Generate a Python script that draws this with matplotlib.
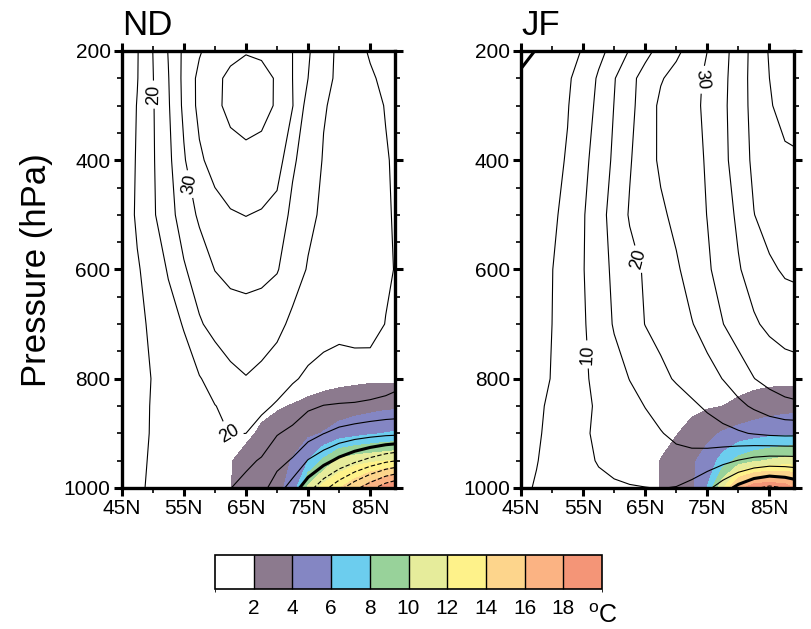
import numpy as np
import matplotlib
matplotlib.use('Agg')
import matplotlib as mpl
import matplotlib.pyplot as plt
from matplotlib.colors import ListedColormap, BoundaryNorm

plt.rcParams['font.family'] = ['Liberation Sans', 'DejaVu Sans']
plt.rcParams['mathtext.fontset'] = 'custom'
plt.rcParams['mathtext.rm'] = 'Liberation Sans'

# grid of the fields (latitude, pressure)
lats = [45, 47.5, 50, 52.5, 55, 57.5, 60, 62.5, 65, 67.5, 70, 72.5, 75, 77.5, 80, 82.5, 85, 87.5, 90]
plevs = [200, 250, 300, 400, 500, 600, 700, 800, 850, 900, 950, 1000]

# ND: contour-line field (rows = plevs, cols = lats)
nd_lines = [
    [11.5, 14.7, 20.0, 25.2, 31.0, 34.5, 37.5, 39.0, 39.7, 39.3, 37.5, 35.0, 30.5, 27.0, 24.0, 21.7, 19.5, 18.0, 16.5],
    [11.5, 14.8, 19.8, 24.8, 31.2, 36.3, 39.2, 40.8, 41.8, 41.3, 39.6, 35.0, 30.0, 26.5, 24.0, 22.3, 20.6, 19.0, 17.5],
    [11.5, 15.2, 19.6, 24.5, 31.0, 36.3, 39.0, 41.2, 42.2, 41.5, 39.5, 35.2, 28.0, 25.3, 24.0, 22.5, 21.3, 19.8, 18.5],
    [11.5, 15.5, 19.5, 23.8, 29.5, 34.2, 36.8, 38.2, 38.7, 38.3, 37.5, 30.8, 27.5, 24.7, 23.5, 22.7, 21.8, 20.3, 19.0],
    [11.5, 15.8, 19.3, 23.2, 27.2, 30.8, 33.2, 34.6, 35.1, 34.6, 33.0, 28.8, 26.2, 24.1, 23.0, 22.4, 21.6, 20.4, 19.3],
    [11.8, 14.5, 17.2, 20.4, 24.5, 27.3, 30.1, 31.3, 31.6, 31.3, 30.3, 27.5, 24.6, 23.2, 22.5, 22.0, 21.5, 20.5, 19.5],
    [12.0, 13.7, 16.0, 18.2, 20.3, 24.5, 26.5, 27.6, 28.0, 27.5, 26.5, 23.8, 22.5, 21.8, 21.3, 21.4, 21.3, 19.9, 19.0],
    [12.3, 13.5, 15.2, 16.5, 18.0, 19.7, 21.8, 23.8, 24.8, 23.8, 22.0, 20.5, 19.2, 18.3, 17.8, 18.2, 18.3, 17.3, 16.0],
    [12.5, 13.8, 15.3, 16.5, 17.6, 18.8, 19.9, 21.0, 21.5, 20.9, 19.5, 17.8, 15.6, 14.9, 14.7, 14.5, 14.0, 13.6, 13.3],
    [12.8, 14.0, 15.3, 16.4, 17.4, 18.4, 19.3, 20.1, 20.0, 18.2, 15.3, 13.8, 12.4, 10.1, 8.6, 7.6, 6.9, 6.3, 6.0],
    [13.1, 14.3, 15.4, 16.3, 17.0, 17.5, 17.6, 17.2, 16.1, 14.5, 11.6, 9.5, 4.7, 1.8, -1.3, -4.0, -6.5, -8.8, -10.5],
    [13.5, 14.5, 15.5, 16.2, 16.7, 16.8, 16.3, 15.1, 13.4, 11.6, 7.5, 2.5, -3.0, -8.5, -13.5, -18.5, -23.5, -28.5, -32.0],
]

# ND: shaded field (deg C)
nd_shade = [
    [0] * 19,
    [0] * 19,
    [0] * 19,
    [0] * 19,
    [0] * 19,
    [0] * 19,
    [0, 0, 0, 0, 0, 0, 0, 0, 0, 0, 0, 0.1, 0.2, 0.3, 0.4, 0.5, 0.6, 0.65, 0.7],
    [0, 0, 0, 0, 0, 0, 0, 0, 0.1, 0.3, 0.5, 0.8, 1.0, 1.3, 1.5, 1.6, 1.7, 1.7, 1.6],
    [0, 0, 0, 0, 0, 0.2, 0.5, 0.8, 1.1, 1.5, 1.8, 2.1, 2.5, 2.8, 3.0, 3.2, 3.4, 3.6, 3.7],
    [0, 0, 0, 0, 0, 0.3, 0.6, 1.0, 1.6, 2.3, 2.8, 3.3, 3.6, 4.1, 4.8, 5.3, 5.7, 6.05, 6.3],
    [0, 0, 0, 0, 0.3, 0.7, 1.2, 1.9, 2.6, 3.0, 3.4, 4.1, 6.0, 8.4, 10.5, 11.2, 11.6, 11.95, 12.3],
    [0, 0, 0, 0, 0.4, 0.8, 1.3, 1.95, 2.7, 3.2, 3.7, 4.4, 10.5, 12.8, 13.9, 15.4, 17.3, 19.0, 20.0],
]

# JF: contour-line field
jf_lines = [
    [-1.5, 0.2, 1.8, 3.5, 5.3, 8.5, 11.8, 15.3, 18.6, 21.5, 24.0, 26.9, 30.0, 33.4, 37.3, 41.6, 45.4, 46.8, 47.5],
    [0.8, 2.0, 3.2, 4.5, 6.6, 10.7, 14.7, 18.6, 21.8, 24.6, 26.6, 28.5, 30.8, 33.8, 37.5, 41.7, 45.0, 47.0, 48.0],
    [1.5, 2.6, 3.6, 4.8, 7.3, 11.3, 15.1, 18.8, 22.2, 26.0, 27.3, 28.7, 31.0, 34.0, 37.6, 41.5, 44.6, 46.5, 47.3],
    [2.0, 3.0, 3.9, 5.3, 8.7, 12.2, 15.8, 19.6, 22.8, 25.8, 27.3, 28.3, 30.5, 33.8, 37.2, 41.0, 43.0, 44.2, 44.5],
    [2.5, 3.3, 4.2, 6.3, 9.6, 13.2, 16.8, 20.4, 22.5, 24.2, 26.1, 28.0, 30.1, 32.7, 35.9, 39.9, 42.0, 43.1, 43.5],
    [2.8, 3.6, 4.9, 7.0, 9.8, 12.8, 16.0, 18.5, 20.5, 22.5, 24.4, 26.8, 29.4, 31.8, 34.6, 37.0, 39.2, 40.6, 41.0],
    [3.0, 4.0, 5.0, 6.8, 9.5, 12.3, 15.4, 17.8, 20.1, 21.6, 23.1, 24.8, 26.8, 29.9, 32.3, 34.4, 36.0, 37.0, 37.5],
    [3.5, 4.3, 5.1, 6.5, 9.3, 11.2, 13.2, 15.1, 16.9, 18.8, 20.5, 22.0, 23.4, 25.1, 27.5, 29.9, 31.6, 32.6, 33.0],
    [3.8, 4.6, 5.4, 6.6, 8.8, 10.8, 12.3, 13.7, 15.1, 16.4, 17.7, 19.2, 20.7, 22.3, 23.9, 25.7, 27.4, 28.7, 29.3],
    [4.0, 4.7, 5.6, 7.0, 9.2, 11.0, 12.0, 12.8, 13.7, 14.8, 15.9, 16.9, 17.9, 18.7, 19.5, 20.3, 21.0, 21.3, 21.2],
    [4.3, 4.9, 5.8, 7.3, 9.0, 10.3, 11.2, 12.0, 12.7, 13.3, 13.6, 13.4, 12.6, 11.3, 9.8, 8.5, 7.8, 7.8, 8.0],
    [4.5, 5.2, 6.3, 7.5, 8.5, 9.0, 9.4, 9.7, 9.9, 10.1, 9.8, 8.5, 6.0, 2.5, -1.5, -4.5, -6.0, -5.0, -3.0],
]

# JF: shaded field (deg C)
jf_shade = [
    [0] * 19,
    [0] * 19,
    [0] * 19,
    [0] * 19,
    [0] * 19,
    [0] * 19,
    [0] * 19,
    [0, 0, 0, 0, 0, 0, 0, 0, 0, 0, 0.3, 0.5, 0.8, 1.0, 1.2, 1.4, 1.5, 1.5, 1.5],
    [0, 0, 0, 0, 0, 0, 0, 0, 0.3, 0.7, 1.1, 1.5, 1.8, 2.0, 2.4, 2.8, 3.1, 3.3, 3.4],
    [0, 0, 0, 0, 0, 0, 0.2, 0.5, 0.9, 1.4, 1.9, 2.7, 3.5, 4.2, 4.7, 5.1, 5.4, 5.6, 5.7],
    [0, 0, 0, 0, 0, 0, 0.4, 0.8, 1.3, 2.05, 2.9, 3.7, 4.8, 6.8, 8.7, 9.6, 10.2, 10.7, 10.9],
    [0, 0, 0, 0, 0, 0, 0.5, 0.9, 1.4, 2.05, 2.8, 3.6, 6.1, 11.8, 17.2, 19.5, 20.0, 19.3, 17.2],
]

shade_bounds = [-100, 2, 4, 6, 8, 10, 12, 14, 16, 18, 100]
shade_colors = ['#ffffff', '#8c7a8e', '#8486c3', '#6ccdee', '#98d29a',
                '#e6ec9b', '#fef28a', '#fdd58c', '#fbb383', '#f49577']
cbar_ticks = [2, 4, 6, 8, 10, 12, 14, 16, 18]

xticks = [45, 55, 65, 75, 85]
xticklabels = ['45N', '55N', '65N', '75N', '85N']
yticks = [200, 400, 600, 800, 1000]

# label positions (lat, hPa)
nd_label_pos = [(49.9, 280), (55.4, 445), (62.1, 906)]
jf_label_pos = [(75.0, 253), (63.6, 582), (55.0, 756)]

fig = plt.figure(figsize=(8.11, 6.29), dpi=100)
ax1 = fig.add_axes([0.1501, 0.2242, 0.337, 0.6948])
ax2 = fig.add_axes([0.6424, 0.2242, 0.337, 0.6948])


def draw_panel(ax, lines, shade, title, label_pos):
    X, Y = np.meshgrid(lats, plevs)
    L = np.array(lines)
    S = np.array(shade)
    ax.contourf(X, Y, S, levels=shade_bounds, colors=shade_colors)
    ax.contour(X, Y, L, levels=np.arange(-40, 0, 5), colors='k',
               linewidths=0.8, linestyles=[(0, (4, 2))])
    ax.contour(X, Y, L, levels=[0], colors='k', linewidths=2.2)
    cs = ax.contour(X, Y, L, levels=np.arange(5, 55, 5), colors='k',
                    linewidths=0.8, linestyles='solid')
    ax.clabel(cs, fmt='%d', fontsize=13, manual=label_pos, inline=True,
              inline_spacing=4)

    ax.set_xlim(45, 89)
    ax.set_ylim(1000, 200)
    ax.set_xticks(xticks)
    ax.set_xticklabels(xticklabels)
    ax.set_xticks([50, 60, 70, 80], minor=True)
    ax.set_yticks(yticks)
    ax.set_yticks(np.arange(250, 1000, 50), minor=True)
    ax.tick_params(which='both', direction='out', top=True, right=True,
                   labelsize=15, pad=2)
    ax.tick_params(which='major', length=6, width=2.2)
    ax.tick_params(which='minor', length=3.5, width=1.2)
    for sp in ax.spines.values():
        sp.set_linewidth(2.4)
    ax.text(0.0, 1.037, title, transform=ax.transAxes, fontsize=25,
            ha='left', va='baseline')


draw_panel(ax1, nd_lines, nd_shade, 'ND', nd_label_pos)
draw_panel(ax2, jf_lines, jf_shade, 'JF', jf_label_pos)

fig.text(37 / 811, 1 - 270 / 629, 'Pressure (hPa)', rotation=90,
         ha='center', va='center', fontsize=25)

# colour bar
cax = fig.add_axes([215 / 811, 1 - 589 / 629, 387 / 811, 34 / 629])
cmap = ListedColormap(shade_colors)
norm = BoundaryNorm([0, 2, 4, 6, 8, 10, 12, 14, 16, 18, 20], cmap.N)
cb = mpl.colorbar.ColorbarBase(cax, cmap=cmap, norm=norm, orientation='horizontal',
                               ticks=cbar_ticks, drawedges=True)
cb.outline.set_linewidth(1.2)
cb.dividers.set_linewidth(1.0)
cax.tick_params(length=0, labelsize=15, pad=7)
fig.text(588 / 811, 1 - 628 / 629, r'$^{\mathrm{o}}$C', fontsize=18,
         ha='left', va='bottom')

fig.savefig('out.png', dpi=100)
